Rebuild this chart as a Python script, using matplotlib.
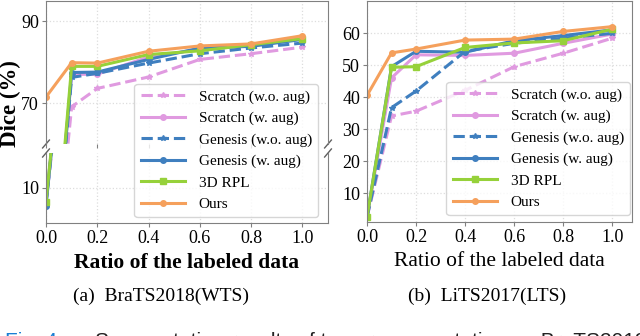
import matplotlib
matplotlib.use('Agg')
import matplotlib.pyplot as plt

# Dice (%) against the ratio of labeled data, two datasets
ratios = [0.0, 0.1, 0.2, 0.4, 0.6, 0.8, 1.0]
labels = ['Scratch (w.o. aug)', 'Scratch (w. aug)', 'Genesis (w.o. aug)',
          'Genesis (w. aug)', '3D RPL', 'Ours']

# BraTS2018 (WTS)
brats_scratch_wo = [6.0, 69.1, 73.6, 76.4, 80.7, 82.1, 83.7]
brats_scratch_w = [6.0, 77.0, 77.1, 81.3, 83.2, 84.0, 85.8]
brats_genesis_wo = [5.5, 76.3, 77.3, 79.8, 82.1, 83.5, 84.7]
brats_genesis_w = [5.0, 77.5, 77.6, 80.7, 83.5, 83.9, 85.6]
brats_rpl = [6.0, 79.0, 79.0, 81.9, 82.8, 84.3, 85.8]
brats_ours = [71.5, 79.9, 79.8, 82.7, 84.0, 84.5, 86.5]

# LiTS2017 (LTS)
lits_scratch_wo = [2.5, 34.1, 35.6, 42.1, 49.5, 53.7, 58.4]
lits_scratch_w = [2.5, 46.0, 53.2, 53.0, 53.7, 56.8, 59.7]
lits_genesis_wo = [2.5, 36.7, 41.9, 54.3, 56.8, 58.4, 59.9]
lits_genesis_w = [2.5, 49.5, 54.3, 54.0, 57.6, 59.2, 61.0]
lits_rpl = [2.5, 49.3, 49.5, 55.5, 56.9, 57.6, 61.2]
lits_ours = [40.5, 53.8, 55.0, 57.8, 58.1, 60.5, 62.0]

brats = [brats_scratch_wo, brats_scratch_w, brats_genesis_wo,
         brats_genesis_w, brats_rpl, brats_ours]
lits = [lits_scratch_wo, lits_scratch_w, lits_genesis_wo,
        lits_genesis_w, lits_rpl, lits_ours]

colors = ['#e09ae0', '#e09ae0', '#3f7fbf', '#3f7fbf', '#96d13a', '#f5a05c']
styles = ['--', '-', '--', '-', '-', '-']
markers = ['*', 'o', '*', 'o', 's', 'o']

serif = 'Liberation Serif'
plt.rcParams['font.family'] = serif

W, H = 640, 336
fig = plt.figure(figsize=(W / 100, H / 100), dpi=100)


def px(x0, y0, x1, y1):
    # pixel box (top-left origin) -> figure fraction rect
    return [x0 / W, 1 - y1 / H, (x1 - x0) / W, (y1 - y0) / H]


def style_axes(ax):
    for s in ax.spines.values():
        s.set_color('#808080')
    ax.tick_params(labelsize=13, length=3, color='#808080', pad=2)
    ax.grid(True, color='#dddddd', linestyle=':', linewidth=0.9)
    ax.set_axisbelow(True)


def draw_lines(ax, data):
    handles = []
    for vals, c, ls, m, lab in zip(data, colors, styles, markers, labels):
        h, = ax.plot(ratios, vals, color=c, linestyle=ls, marker=m,
                     markersize=4, linewidth=2.2, label=lab)
        handles.append(h)
    return handles


legend_kw = dict(fontsize=11, handlelength=2.9, borderaxespad=0,
                 labelspacing=0.5, edgecolor='#cccccc', handletextpad=0.9)

# Left: broken y axis
ax_top = fig.add_axes(px(46, 1, 328, 144))
ax_bot = fig.add_axes(px(46, 153, 328, 223))
for ax in (ax_top, ax_bot):
    style_axes(ax)
    handles = draw_lines(ax, brats)
    ax.set_xlim(0, 1.1)
    ax.set_xticks([0.0, 0.2, 0.4, 0.6, 0.8, 1.0])
ax_top.set_ylim(60, 95)
ax_top.set_yticks([70, 90])
ax_bot.set_ylim(0, 20)
ax_bot.set_yticks([10])
ax_top.spines['bottom'].set_visible(False)
ax_bot.spines['top'].set_visible(False)
ax_top.tick_params(labelbottom=False)
ax_bot.set_xlabel('Ratio of the labeled data', fontsize=15.5,
                  fontweight='bold', labelpad=4)

# Break marks
d = 0.012
kw = dict(color='#606060', clip_on=False, linewidth=1)
for xx in (0, 1):
    ax_top.plot([xx - d, xx + d], [-d * 2.3, d * 2.3],
                transform=ax_top.transAxes, **kw)
    ax_bot.plot([xx - d, xx + d], [1 - d * 4.8, 1 + d * 4.8],
                transform=ax_bot.transAxes, **kw)

fig.text(10 / W, 1 - 104 / H, 'Dice (%)', rotation=90, fontsize=16.5,
         fontweight='bold', ha='center', va='center')
fig.legend(handles=handles, loc='upper right',
           bbox_to_anchor=(318 / W, 1 - 84 / H), **legend_kw)

# Right
ax_r = fig.add_axes(px(367, 1, 632, 222))
style_axes(ax_r)
handles_r = draw_lines(ax_r, lits)
ax_r.set_xlim(0, 1.08)
ax_r.set_ylim(1, 70)
ax_r.set_xticks([0.0, 0.2, 0.4, 0.6, 0.8, 1.0])
ax_r.set_yticks([10, 20, 30, 40, 50, 60])
ax_r.set_xlabel('Ratio of the labeled data', fontsize=15.5, labelpad=4)
ax_r.legend(handles=handles_r, loc='upper right',
            bbox_to_anchor=(630 / W, 1 - 82 / H),
            bbox_transform=fig.transFigure, **legend_kw)

# Sub-captions
fig.text(161 / W, 1 - 296 / H, '(a)  BraTS2018(WTS)', fontsize=14,
         ha='center', va='center')
fig.text(487 / W, 1 - 296 / H, '(b)  LiTS2017(LTS)', fontsize=14,
         ha='center', va='center')

# Figure caption, cut off at the bottom edge
fig.text(5 / W, 1 - 332 / H, 'Fig. 4.', fontsize=15, color='#1a7fd4',
         family='Liberation Sans', va='top')
fig.text(95 / W, 1 - 332 / H,
         'Segmentation results of tumor segmentation on BraTS2018',
         fontsize=15, color='#222222', family='Liberation Sans', va='top')

fig.savefig('out.png', dpi=100)
